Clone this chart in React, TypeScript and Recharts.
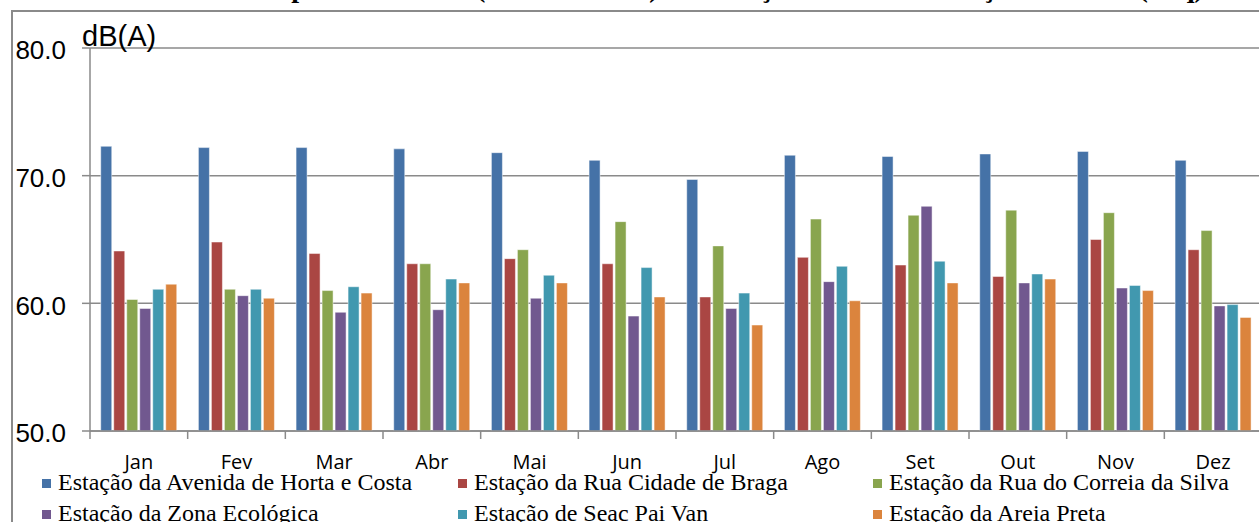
import React from 'react';
import { BarChart, Bar, XAxis, YAxis, CartesianGrid } from 'recharts';

const months = ['Jan', 'Fev', 'Mar', 'Abr', 'Mai', 'Jun', 'Jul', 'Ago', 'Set', 'Out', 'Nov', 'Dez'];

const stationNames = [
  'Estação da Avenida de Horta e Costa',
  'Estação da Rua Cidade de Braga',
  'Estação da Rua do Correia da Silva',
  'Estação da Zona Ecológica',
  'Estação de Seac Pai Van',
  'Estação da Areia Preta',
];

const hortaCosta = [72.3, 72.2, 72.2, 72.1, 71.8, 71.2, 69.7, 71.6, 71.5, 71.7, 71.9, 71.2];
const cidadeBraga = [64.1, 64.8, 63.9, 63.1, 63.5, 63.1, 60.5, 63.6, 63.0, 62.1, 65.0, 64.2];
const correiaSilva = [60.3, 61.1, 61.0, 63.1, 64.2, 66.4, 64.5, 66.6, 66.9, 67.3, 67.1, 65.7];
const zonaEcologica = [59.6, 60.6, 59.3, 59.5, 60.4, 59.0, 59.6, 61.7, 67.6, 61.6, 61.2, 59.8];
const seacPaiVan = [61.1, 61.1, 61.3, 61.9, 62.2, 62.8, 60.8, 62.9, 63.3, 62.3, 61.4, 59.9];
const areiaPreta = [61.5, 60.4, 60.8, 61.6, 61.6, 60.5, 58.3, 60.2, 61.6, 61.9, 61.0, 58.9];

const yTicks = [50, 60, 70, 80];

const colors = ['#4572A7', '#AA4643', '#89A54E', '#71588F', '#4198AF', '#DB843D'];
const keys = ['s0', 's1', 's2', 's3', 's4', 's5'];

const data = months.map((m, i) => ({
  month: m,
  s0: hortaCosta[i],
  s1: cidadeBraga[i],
  s2: correiaSilva[i],
  s3: zonaEcologica[i],
  s4: seacPaiVan[i],
  s5: areiaPreta[i],
}));

const CHART_W = 1300;
const CHART_H = 522;
const PLOT_LEFT = 90;
const PLOT_RIGHT_MARGIN = 38;
const bandWidth = (CHART_W - PLOT_LEFT - PLOT_RIGHT_MARGIN) / months.length;

const axisGray = '#8a8a8a';

// month label in the middle, tick mark on the left edge of the band
const MonthTick = (props: any) => {
  const { x, y, payload } = props;
  const left = x - bandWidth / 2;
  return (
    <g>
      <line x1={left} y1={y - 8} x2={left} y2={y} stroke={axisGray} strokeWidth={1.5} />
      <text
        x={x}
        y={y + 30}
        textAnchor="middle"
        fill="#000"
        style={{ fontFamily: '"Open Sans", sans-serif', fontSize: 20 }}
      >
        {payload.value}
      </text>
    </g>
  );
};

const legendCols = [42, 458, 873];

export default function App() {
  return (
    <div
      style={{
        position: 'absolute',
        left: 0,
        top: 0,
        width: 1259,
        height: 522,
        overflow: 'hidden',
        background: '#fff',
      }}
    >
      <div
        style={{
          position: 'absolute',
          left: 0,
          top: -27,
          width: 1380,
          textAlign: 'center',
          fontFamily: '"Liberation Serif", serif',
          fontWeight: 'bold',
          fontSize: 28,
          lineHeight: '30px',
          whiteSpace: 'nowrap',
        }}
      >
        Níveis de pressão sonora (média mensal) nas estações de monitorização do ruído (Leq)
      </div>
      <div
        style={{
          position: 'absolute',
          left: 11,
          top: 10,
          width: 1400,
          height: 600,
          borderLeft: `2px solid ${axisGray}`,
          borderTop: `2px solid ${axisGray}`,
        }}
      />
      <div style={{ position: 'absolute', left: 0, top: 0 }}>
        <BarChart
          width={CHART_W}
          height={CHART_H}
          data={data}
          margin={{ top: 48, right: PLOT_RIGHT_MARGIN, left: 0, bottom: 0 }}
          barCategoryGap="11%"
          barGap={2}
        >
          <CartesianGrid horizontal vertical={false} stroke={axisGray} strokeWidth={1.5} />
          <XAxis
            dataKey="month"
            height={91}
            axisLine={{ stroke: axisGray, strokeWidth: 1.5 }}
            tickLine={false}
            tickSize={8}
            tickMargin={0}
            interval={0}
            tick={<MonthTick />}
          />
          <YAxis
            width={PLOT_LEFT}
            domain={[50, 80]}
            ticks={yTicks}
            allowDataOverflow
            axisLine={{ stroke: axisGray, strokeWidth: 1.5 }}
            tickLine={{ stroke: axisGray, strokeWidth: 1.5 }}
            tickSize={8}
            tickMargin={16}
            tickFormatter={(v: number) => v.toFixed(1)}
            tick={{ fill: '#000', fontSize: 26, fontFamily: '"Liberation Sans", Arial, sans-serif', dy: 2 }}
          />
          {keys.map((k, i) => (
            <Bar
              key={k}
              dataKey={k}
              name={stationNames[i]}
              fill={colors[i]}
              stroke="#ffffff"
              strokeOpacity={0.6}
              strokeWidth={0.8}
              isAnimationActive={false}
            />
          ))}
        </BarChart>
      </div>
      <div
        style={{
          position: 'absolute',
          left: 82,
          top: 21,
          fontFamily: '"Liberation Sans", Arial, sans-serif',
          fontSize: 29,
          lineHeight: '30px',
        }}
      >
        dB(A)
      </div>
      {stationNames.map((name, i) => {
        const col = i % 3;
        const row = Math.floor(i / 3);
        return (
          <div
            key={name}
            style={{
              position: 'absolute',
              left: legendCols[col],
              top: 469 + row * 31,
              display: 'flex',
              alignItems: 'center',
              whiteSpace: 'nowrap',
              fontFamily: '"Liberation Serif", "Times New Roman", serif',
              fontSize: 24,
              lineHeight: '27px',
            }}
          >
            <span
              style={{
                display: 'inline-block',
                width: 9,
                height: 9,
                background: colors[i],
                marginRight: 7,
                marginTop: 2,
              }}
            />
            {name}
          </div>
        );
      })}
    </div>
  );
}
